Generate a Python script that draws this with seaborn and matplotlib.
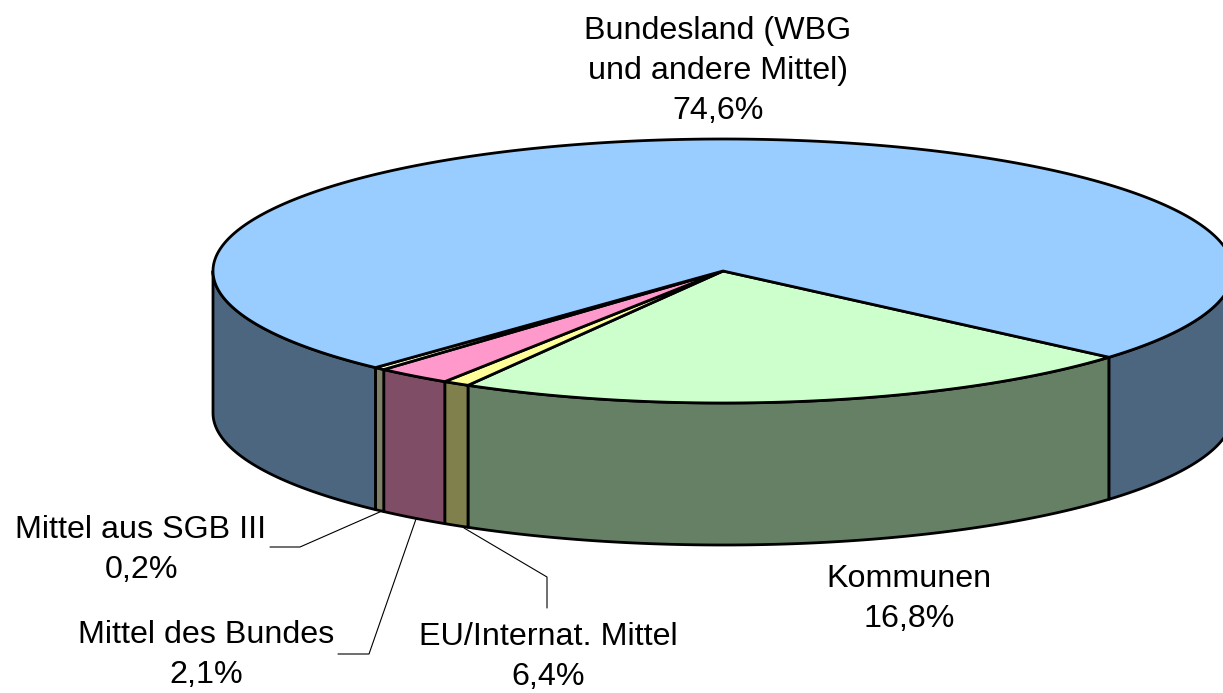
import matplotlib
matplotlib.use('Agg')
import numpy as np
import seaborn as sns
import matplotlib.pyplot as plt

# order runs clockwise from the right hand edge of the Kommunen slice
names = ['Kommunen', 'EU/Internat. Mittel', 'Mittel des Bundes', 'Mittel aus SGB III', 'Bundesland (WBG\nund andere Mittel)']
printed = ['16,8%', '6,4%', '2,1%', '0,2%', '74,6%']
# slice sizes as drawn in the picture, they differ from the printed labels
drawn_shares = [22.0, 0.85, 2.4, 0.35, 74.4]
top_colors = ['#CCFFCC', '#FFFF99', '#FF99CC', '#FFFFCC', '#99CCFF']

label_pos = [(909, 599), (548, 657), (206, 655), (141, 550), (718, 71)]
leaders = [
    None,
    [(464, 528), (547, 577), (547, 608)],
    [(416, 519), (369, 654), (338, 654)],
    [(382, 511), (300, 547), (270, 547)],
    None,
]

CX, CY = 723, 271
RX, RY = 510, 132
DEPTH = 142
START = 40.8


def rim(theta, drop=0):
    t = np.radians(theta)
    return CX + RX * np.cos(t), CY + RY * np.sin(t) + drop


def draw_wall(ax, t1, t2, color):
    th = np.linspace(t1, t2, 200)
    x, y = rim(th)
    xb, yb = rim(th[::-1], DEPTH)
    ax.fill(np.r_[x, xb], np.r_[y, yb], facecolor=color, edgecolor='black', lw=2.0, joinstyle='round')


def draw_top(ax, t1, t2, color):
    th = np.linspace(t1, t2, 400)
    x, y = rim(th)
    ax.fill(np.r_[CX, x], np.r_[CY, y], facecolor=color, edgecolor='black', lw=2.0, joinstyle='round')


sns.set_theme(style='white')
plt.rcParams['font.family'] = ['Liberation Sans', 'DejaVu Sans']
fig, ax = plt.subplots(figsize=(12.23, 6.93), dpi=100)
ax.set_position([0, 0, 1, 1])
ax.set_xlim(0, 1223)
ax.set_ylim(693, 0)
ax.axis('off')

edges = START + np.r_[0, np.cumsum(drawn_shares)] * 3.6
side_colors = [tuple(c * 0.5 for c in col) for col in sns.color_palette(top_colors)]

# only the front half of the cylinder shows
for i, color in enumerate(side_colors):
    t1, t2 = edges[i], edges[i + 1]
    if i == len(side_colors) - 1:
        draw_wall(ax, t1, 180, color)
        draw_wall(ax, 0, START, color)
    else:
        draw_wall(ax, t1, t2, color)

for i, color in enumerate(top_colors):
    draw_top(ax, edges[i], edges[i + 1], color)

for line in leaders:
    if line:
        xs, ys = zip(*line)
        ax.plot(xs, ys, color='black', lw=0.8)

for name, value, (x, y) in zip(names, printed, label_pos):
    ax.text(x, y, name + '\n' + value, ha='center', va='center', fontsize=23.2,
            color='black', linespacing=1.44)

fig.savefig('out.png', dpi=100)
